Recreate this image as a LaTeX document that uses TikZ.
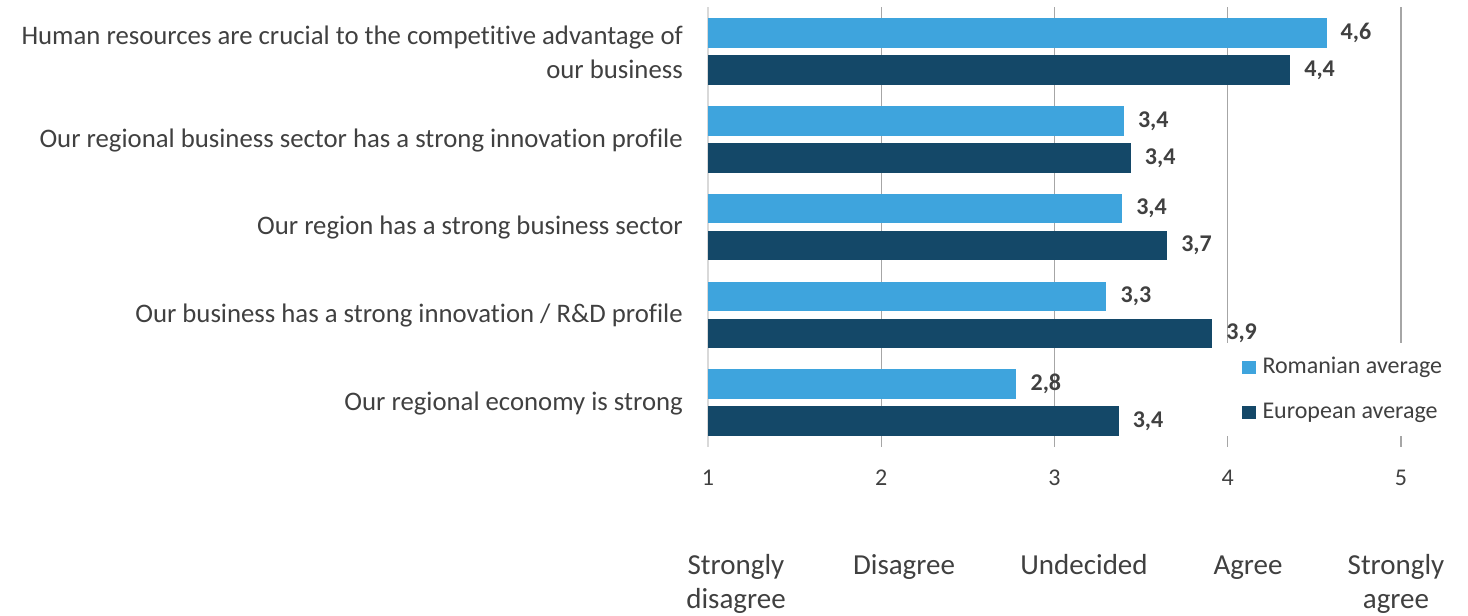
\documentclass[tikz,border=0pt]{standalone}
\usepackage{fontspec}
\setmainfont{Carlito}[Ligatures=NoCommon]
\definecolor{rom}{RGB}{62,164,221}
\definecolor{eur}{RGB}{20,72,104}
\definecolor{txt}{RGB}{64,64,64}
\definecolor{gitter}{RGB}{166,166,166}
\definecolor{achse}{RGB}{217,217,217}
\begin{document}
\begin{tikzpicture}[x=1pt,y=-1pt,
  every node/.style={text=txt,inner sep=0pt},
  kat/.style={anchor=east,align=right,font=\fontsize{26.75}{34.5}\selectfont},
  wert/.style={anchor=west,font=\bfseries\fontsize{24}{28}\selectfont},
  skala/.style={font=\fontsize{24}{28}\selectfont},
  stufe/.style={anchor=base,align=center,font=\fontsize{29}{34}\selectfont}]
\def \xa {708};
\def \ex {173.25};
\useasboundingbox (0,0) rectangle (1468,616);
% Gitter zeichnen
\foreach \v in {2,...,5}
\draw[gitter,line width=1.3pt] ({\xa+(\v-1)*\ex},7) -- ({\xa+(\v-1)*\ex},447);
\draw[achse,line width=1.3pt] (\xa,7) -- (\xa,447);
% Legende
\fill[white] (1218,343) rectangle (1460,436);
\fill[rom] (1242.3,361) rectangle (1255.7,374.3);
\fill[eur] (1242.3,406) rectangle (1255.7,419.3);
\node[skala,anchor=west] (lr) at (1262.3,367.5) {Romanian average};
\node[skala,anchor=west] (le) at (1262.3,412.7) {European average};
% Balken
\foreach \i/\r/\rl/\e/\el in {1/4.57/{4,6}/4.36/{4,4},2/3.40/{3,4}/3.44/{3,4},3/3.39/{3,4}/3.65/{3,7},4/3.30/{3,3}/3.91/{3,9},5/2.78/{2,8}/3.37/{3,4}}{
\pgfmathsetmacro\yt{18.3+87.75*(\i-1)}
\fill[rom] (\xa,\yt) rectangle ({\xa+(\r-1)*\ex},{\yt+29.5});
\fill[eur] (\xa,{\yt+37}) rectangle ({\xa+(\e-1)*\ex},{\yt+66.5});
\node[wert] (wr\i) at ({\xa+(\r-1)*\ex+14},{\yt+14.75}) {\rl};
\node[wert] (we\i) at ({\xa+(\e-1)*\ex+14},{\yt+51.75}) {\el};
}
% Kategorien
\foreach \i/\t in {1/{Human resources are crucial to the competitive advantage of\\our business},2/{Our regional business sector has a strong innovation profile},3/{Our region has a strong business sector},4/{Our business has a strong innovation / R\&D profile},5/{Our regional economy is strong}}
\node[kat] (k\i) at (683,{52.5+87.75*(\i-1)}) {\t};
% Achse beschriften
\foreach \v in {1,...,5}
\node[skala] (t\v) at ({\xa+(\v-1)*\ex},478) {\v};
\node[stufe] (s1) at (736,608.5) {Strongly\\disagree};
\node[stufe] (s2) at (904,574.5) {Disagree};
\node[stufe] (s3) at (1084,574.5) {Undecided};
\node[stufe] (s4) at (1248,574.5) {Agree};
\node[stufe] (s5) at (1396,608.5) {Strongly\\agree};
\end{tikzpicture}
\end{document}
